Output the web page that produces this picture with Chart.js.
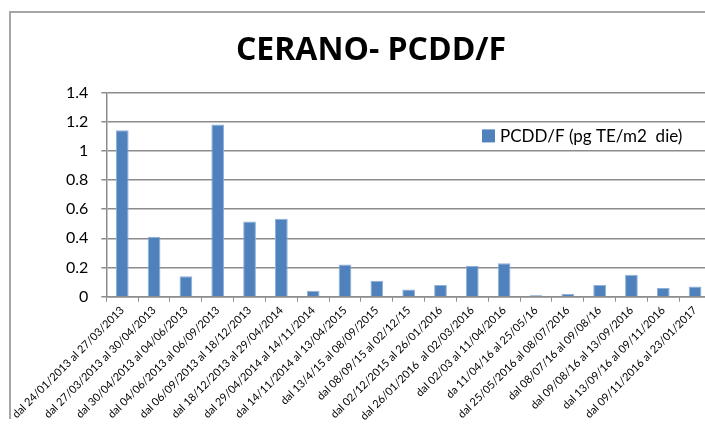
<!DOCTYPE html>
<html>
<head>
<meta charset="utf-8">
<script src="https://cdn.jsdelivr.net/npm/chart.js@4.4.0/dist/chart.umd.min.js"></script>
<style>
  html, body { margin: 0; padding: 0; background: #fff; overflow: hidden; width: 705px; height: 428px; }
  #cornice { position: absolute; left: 9px; top: 11px; width: 720px; height: 406px;
             border-left: 2px solid #a6a6a6; border-top: 2px solid #a6a6a6; }
  #grafico { position: absolute; left: 0; top: 0; }
</style>
</head>
<body>
<div id="cornice"></div>
<canvas id="grafico" width="716" height="428"></canvas>
<script>
var periodi = ['dal 24/01/2013 al 27/03/2013', 'dal 27/03/2013 al 30/04/2013', 'dal 30/04/2013 al 04/06/2013',
  'dal 04/06/2013 al 06/09/2013', 'dal 06/09/2013 al 18/12/2013', 'dal 18/12/2013 al 29/04/2014',
  'dal 29/04/2014 al 14/11/2014', 'dal 14/11/2014 al 13/04/2015', 'dal 13/4/15 al 08/09/2015',
  'dal 08/09/15 al 02/12/15', 'dal 02/12/2015 al 26/01/2016', 'dal 26/01/2016  al 02/03/2016',
  'dal 02/03 al 11/04/2016', 'da 11/04/16 al 25/05/16', 'dal 25/05/2016 al 08/07/2016',
  'dal 08/07/16 al 09/08/16', 'dal 09/08/16 al 13/09/2016', 'dal 13/09/16 al 09/11/2016',
  'dal 09/11/2016 al 23/01/2017'];
var pcdd = [1.14, 0.41, 0.14, 1.18, 0.515, 0.535, 0.04, 0.22, 0.11, 0.05, 0.08, 0.21, 0.23, 0.01, 0.02, 0.08, 0.15, 0.06, 0.07];
var titolo = 'CERANO- PCDD/F';
var etichetta = 'PCDD/F (pg TE/m2  die)';
var blu = '#4f81bd';

// legenda disegnata dentro l'area del grafico
var legendaInterna = {
  id: 'legendaInterna',
  afterDraw: function(chart) {
    var ctx = chart.ctx;
    var area = chart.chartArea;
    var ds = chart.data.datasets[0];
    var x = area.right - 229;
    var y = area.top + 43;
    ctx.save();
    ctx.fillStyle = ds.backgroundColor;
    ctx.fillRect(x, y - 6, 13, 13);
    ctx.fillStyle = '#000';
    ctx.font = '17px Lato';
    ctx.textBaseline = 'middle';
    ctx.fillText(ds.label, x + 18, y + 1);
    ctx.restore();
  }
};

var canvas = document.getElementById('grafico');
var myChart = new Chart(canvas.getContext('2d'), {
  type: 'bar',
  data: {
    labels: periodi,
    datasets: [{
      label: etichetta,
      data: pcdd,
      backgroundColor: blu,
      borderColor: '#8fb0d8',
      borderWidth: 1,
      categoryPercentage: 1,
      barPercentage: 0.4
    }]
  },
  options: {
    responsive: false,
    animation: false,
    devicePixelRatio: 1,
    layout: { padding: { left: 31, right: 5, top: 0, bottom: 3 } },
    plugins: {
      legend: { display: false },
      tooltip: { enabled: false },
      title: {
        display: true,
        text: titolo,
        color: '#000',
        font: { family: 'Open Sans', size: 32, weight: 'bold' },
        padding: { top: 32, bottom: 22 }
      }
    },
    scales: {
      x: {
        grid: { drawOnChartArea: false, drawTicks: true, tickLength: 5, color: '#8c8c8c' },
        border: { color: '#8c8c8c', width: 1.5 },
        ticks: { color: '#000', font: { family: 'Lato', size: 11 }, minRotation: 45, maxRotation: 45, autoSkip: false, padding: 2 }
      },
      y: {
        min: 0,
        max: 1.4,
        afterFit: function(scala) { scala.width += 22; },
        grid: { color: '#8c8c8c', lineWidth: 1.5, tickLength: 5 },
        border: { color: '#8c8c8c', width: 1.5 },
        ticks: {
          stepSize: 0.2, color: '#000', font: { family: 'Lato', size: 16 }, padding: 13,
          callback: function(v) { return String(Number(v.toFixed(1))); }
        }
      }
    }
  },
  plugins: [legendaInterna]
});
</script>
</body>
</html>
